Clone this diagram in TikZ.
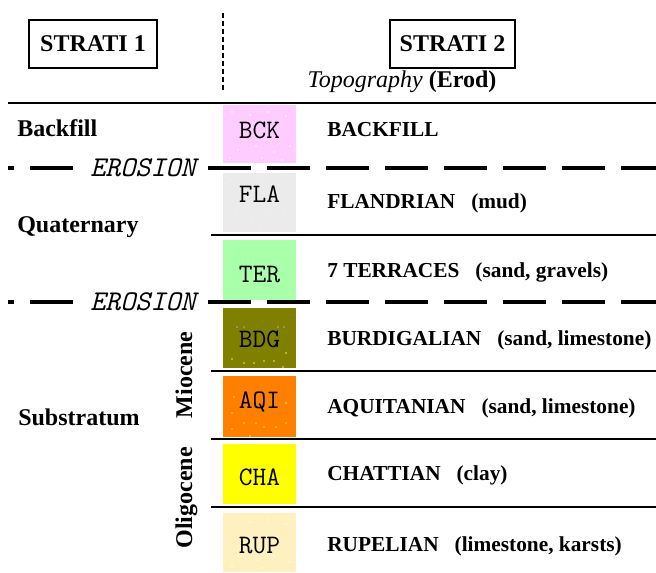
\documentclass[tikz,border=0pt]{standalone}
\usepackage{fontspec}
\setmainfont{Liberation Serif}
\usepackage{xcolor}
\usepackage{tikz}
\definecolor{bckpink}{HTML}{FFCCFF}
\definecolor{flagray}{HTML}{EBEBEB}
\definecolor{tergreen}{HTML}{AAFFAA}
\definecolor{bdgolive}{HTML}{808000}
\definecolor{aqiorange}{HTML}{FF8000}
\definecolor{chayellow}{HTML}{FFFF00}
\definecolor{rupcream}{HTML}{FFF0C0}

\begin{document}
\begin{tikzpicture}[x=0.75pt,y=-0.75pt,
        title/.style={draw,line width=1.2pt,inner sep=0pt,font=\bfseries\fontsize{18}{18}\selectfont,minimum height=36pt},
        era/.style={inner sep=0pt,anchor=base west,font=\bfseries\fontsize{18}{18}\selectfont},
        strat/.style={inner sep=0pt,anchor=base west,font=\bfseries\fontsize{16}{16}\selectfont},
        code/.style={inner sep=0pt,anchor=base,font=\ttfamily\fontsize{20}{20}\selectfont},
        erosion/.style={fill=white,inner xsep=9.4pt,inner ysep=0pt,font=\ttfamily\itshape\fontsize{21.5}{21.5}\selectfont},
        erosionline/.style={line width=3pt,dash pattern=on 32.25pt off 12pt},
        limit/.style={line width=1.2pt}]
        \useasboundingbox (0,0) rectangle (656,572);

        % headers
        \node[title,minimum width=96pt] (strati1) at (93,44) {STRATI 1};
        \node[title,minimum width=93.75pt] (strati2) at (452.5,44) {STRATI 2};
        \node[inner sep=0pt,anchor=base,font=\fontsize{18}{18}\selectfont] (topo) at (402,87) {\textit{Topography} \textbf{(Erod)}};
        \draw[line width=0.8pt,dash pattern=on 3.75pt off 2.25pt] (223,13) coordinate (sepa) -- (223,90) coordinate (sepb);
        \draw[line width=1.5pt] (8,103) coordinate (topl) -- (656,103) coordinate (topr);

        % layer column
        \fill[bckpink] (223,105) rectangle (296,163);
        \fill[flagray] (223,173) rectangle (296,232);
        \fill[tergreen] (223,240) rectangle (296,300);
        \fill[bdgolive] (223,308) rectangle (296,368);
        \fill[aqiorange] (223,376) rectangle (296,437);
        \fill[chayellow] (223,444) rectangle (296,504);
        \fill[rupcream] (223,513) rectangle (296,572);

        % speckles
        \foreach \px/\py in {232/112,250/115,268/112,286/116,238/150,256/146,274/152,290/146,230/158,262/158,282/160}
            \fill[white] (\px,\py) circle (0.8);
        \foreach \px/\py in {230/180,244/184,262/181,280/185,236/212,252/220,270/214,288/222,232/228,260/228,284/210}
            \fill[white] (\px,\py) circle (0.7);
        \foreach \px/\py in {237/327,244/327,278/327,284/327}
            \fill[gray!60] (\px,\py) circle (0.8);
        \foreach \px/\py in {286/353,232/359,244/363,254/363,264/361,274/361,283/367}
            \fill[yellow] (\px,\py) circle (0.8);
        \foreach \px/\py in {234/397,286/403,232/413,244/423,256/423,264/427,276/427,286/423,232/429,250/436}
            \fill[yellow] (\px,\py) circle (0.8);
        \foreach \px/\py in {232/520,250/522,268/520,286/524,238/556,256/560,274/556,290/562,232/566,262/568}
            \fill[white] (\px,\py) circle (0.8);

        % boundaries
        \foreach \y in {235,371,439,507}
            \draw[limit] (211,\y) -- (656,\y);

        \coordinate (ero1a) at (8,168);
        \coordinate (ero1b) at (656,168);
        \node[erosion] (ero1) at (143,168) {EROSION};
        \draw[erosionline,dash phase=27.75pt] (ero1a) -- (ero1.west);
        \draw[erosionline] (ero1.east) -- (ero1b);

        \coordinate (ero2a) at (8,302);
        \coordinate (ero2b) at (656,302);
        \node[erosion] (ero2) at (143,302) {EROSION};
        \draw[erosionline,dash phase=27.75pt] (ero2a) -- (ero2.west);
        \draw[erosionline] (ero2.east) -- (ero2b);

        % strati 1
        \node[era] (backfill) at (17,136) {Backfill};
        \node[era] (quaternary) at (17,232) {Quaternary};
        \node[era] (substratum) at (18,425) {Substratum};
        \node[era,rotate=90,anchor=base] (miocene) at (192,375) {Miocene};
        \node[era,rotate=90,anchor=base] (oligocene) at (192,498) {Oligocene};

        % codes
        \node[code] (bck) at (259.5,138) {BCK};
        \node[code] (fla) at (259.5,202) {FLA};
        \node[code] (ter) at (259.5,282) {TER};
        \node[code] (bdg) at (259.5,347) {BDG};
        \node[code] (aqi) at (259.5,408) {AQI};
        \node[code] (cha) at (259.5,485) {CHA};
        \node[code] (rup) at (259.5,553) {RUP};

        % strati 2
        \node[strat] (bckname) at (327,136) {BACKFILL};
        \node[strat] (flaname) at (327,208) {FLANDRIAN\hspace{12pt}(mud)};
        \node[strat] (tername) at (327,277) {7 TERRACES\hspace{12pt}(sand, gravels)};
        \node[strat] (bdgname) at (327,345) {BURDIGALIAN\hspace{12pt}(sand, limestone)};
        \node[strat] (aqiname) at (327,413) {AQUITANIAN\hspace{12pt}(sand, limestone)};
        \node[strat] (chaname) at (327,480) {CHATTIAN\hspace{12pt}(clay)};
        \node[strat] (rupname) at (327,551) {RUPELIAN\hspace{12pt}(limestone, karsts)};
    \end{tikzpicture}
\end{document}
